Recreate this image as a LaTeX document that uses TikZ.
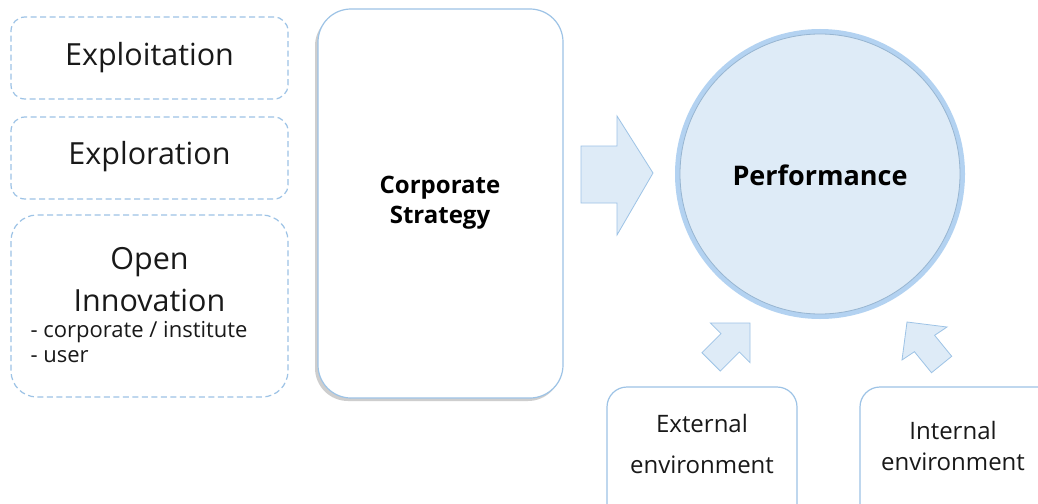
\documentclass[tikz,border=0pt]{standalone}
\usepackage{fontspec}
\setmainfont{Open Sans}
\usetikzlibrary{shapes.geometric}
\definecolor{lineblue}{HTML}{9DC3E6}
\definecolor{fillblue}{HTML}{DEEBF7}
\definecolor{glowblue}{HTML}{A6CBEF}
\tikzset{
  dashbox/.style={draw=lineblue, dashed, dash pattern=on 6pt off 3.5pt, line width=1.2pt, rounded corners=14pt, fill=white},
  solidbox/.style={draw=lineblue, line width=1.2pt, fill=white},
  blockarrow/.style={draw=lineblue, line width=0.8pt, fill=fillblue, line join=miter},
  bigtext/.style={font=\fontsize{30.5}{34}\selectfont, text=black!90},
  smalltext/.style={font=\fontsize{22}{26}\selectfont, text=black!90, anchor=west},
  envtext/.style={font=\fontsize{24}{28}\selectfont, text=black!90, align=center},
  boldtext/.style={font=\bfseries\fontsize{24}{30}\selectfont, align=center},
}
\begin{document}
\begin{tikzpicture}[x=1pt,y=-1pt]
\useasboundingbox (0,0) rectangle (1038,503);
\clip (0,0) rectangle (1038,503);
\fill[white] (0,0) rectangle (1038,503);

% left dashed boxes
\node[dashbox, minimum width=277pt, minimum height=82pt] (exploit) at (149.5,58) {};
\node[bigtext] (exploitT) at (149.5,58) {Exploitation};
\node[dashbox, minimum width=277pt, minimum height=82pt] (explore) at (149.5,158) {};
\node[bigtext] (exploreT) at (149.5,157) {Exploration};
\node[dashbox, rounded corners=26pt, minimum width=277pt, minimum height=182pt] (open) at (149.5,306) {};
\node[bigtext] (openT1) at (149.5,262) {Open};
\node[bigtext] (openT2) at (149.5,300) {Innovation};
\node[smalltext] (openT3) at (27,332) {- corporate / institute};
\node[smalltext] (openT4) at (27,357) {- user};

% corporate strategy box with shadow
\fill[black!35, opacity=0.55, rounded corners=33pt] (315,13) rectangle (561,401);
\node[solidbox, rounded corners=33pt, minimum width=245pt, minimum height=389pt] (corp) at (440.5,203.5) {};
\node[boldtext] (corpT) at (440,203) {Corporate\\Strategy};

% big arrow
\draw[blockarrow] (581,146) -- (617,146) -- (617,116) -- (653,173) -- (617,235) -- (617,203) -- (581,203) -- cycle;

% performance circle
\node[circle, draw=glowblue, line width=6pt, minimum size=284pt, opacity=0.85] (perfGlow) at (820,174) {};
\node[circle, fill=fillblue, draw=lineblue!80!gray, line width=0.8pt, minimum size=280pt] (perf) at (820,174) {};
\node[font=\bfseries\fontsize{27}{30}\selectfont] (perfT) at (820,175) {Performance};

% small arrows
\draw[blockarrow] (750,323) -- (750,362.6) -- (739.4,352) -- (720.3,371.1) -- (701.9,352.7) -- (721,333.6) -- (710.4,323) -- cycle;
\draw[blockarrow] (907,322) -- (947,327) -- (934.6,335.3) -- (951.7,356.3) -- (931.5,372.7) -- (914.4,351.7) -- (902,360) -- cycle;

% environment boxes
\node[solidbox, rounded corners=20pt, minimum width=190pt, minimum height=140pt] (ext) at (702,457) {};
\node[envtext] (extT1) at (702,423) {External};
\node[envtext] (extT2) at (702,465) {environment};
\node[solidbox, rounded corners=20pt, minimum width=200pt, minimum height=140pt] (int) at (960,457) {};
\node[envtext] (intT1) at (953,430) {Internal};
\node[envtext] (intT2) at (953,462) {environment};
\end{tikzpicture}
\end{document}
